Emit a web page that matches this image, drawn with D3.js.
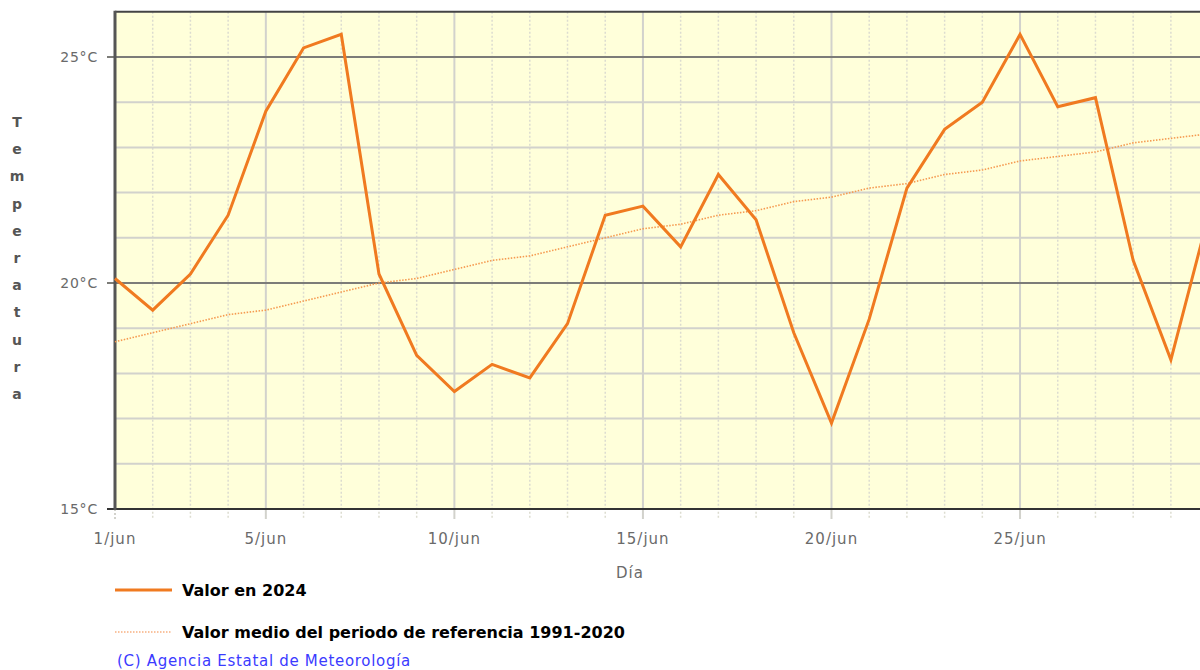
<!DOCTYPE html>
<html lang="es">
<head>
<meta charset="UTF-8">
<title>Temperatura junio 2024</title>
<script src="https://cdnjs.cloudflare.com/ajax/libs/d3/7.8.5/d3.min.js"></script>
<style>
    body { margin: 0; background: #fff; font-family: "DejaVu Sans", Verdana, sans-serif; }
    svg { display: block; }
</style>
</head>
<body>
<div id="chart"></div>
<script>
// dias de junio
const days = d3.range(1, 31);
// temperatura media diaria 2024 (ºC)
const valor2024 = [20.1, 19.4, 20.2, 21.5, 23.8, 25.2, 25.5, 20.2, 18.4, 17.6,
                   18.2, 17.9, 19.1, 21.5, 21.7, 20.8, 22.4, 21.4, 18.9, 16.9,
                   19.2, 22.1, 23.4, 24.0, 25.5, 23.9, 24.1, 20.5, 18.3, 21.5];
// valor medio periodo de referencia 1991-2020
const valorMedio = [18.7, 18.9, 19.1, 19.3, 19.4, 19.6, 19.8, 20.0, 20.1, 20.3,
                    20.5, 20.6, 20.8, 21.0, 21.2, 21.3, 21.5, 21.6, 21.8, 21.9,
                    22.1, 22.2, 22.4, 22.5, 22.7, 22.8, 22.9, 23.1, 23.2, 23.3];
const xTicks = [1, 5, 10, 15, 20, 25];
const yTicks = [15, 20, 25];
const yLabel = "Temperatura";
const legendLabels = ["Valor en 2024", "Valor medio del periodo de referencia 1991-2020"];

const W = 1200, H = 670;
const plotLeft = 115, plotBottom = 509;

const x = d3.scaleLinear().domain([1, 30]).range([plotLeft, plotLeft + 29 * 37.71]);
const y = d3.scaleLinear().domain([15, 26]).range([plotBottom, plotBottom - 11 * 45.2]);

const svg = d3.select("#chart").append("svg")
    .attr("width", W).attr("height", H);

// fondo
svg.append("rect")
    .attr("x", plotLeft).attr("y", y(26))
    .attr("width", W - plotLeft).attr("height", y(15) - y(26))
    .attr("fill", "#ffffda");

// rejilla vertical
svg.append("g").selectAll("line")
    .data(days.filter(d => d > 1))
    .join("line")
    .attr("x1", d => x(d)).attr("x2", d => x(d))
    .attr("y1", y(26)).attr("y2", plotBottom + 10)
    .attr("stroke", d => d % 5 === 0 ? "#d2d2cc" : "#dcdcd0")
    .attr("stroke-width", d => d % 5 === 0 ? 2 : 1.5)
    .attr("stroke-dasharray", d => d % 5 === 0 ? null : "2,2");

// marca bajo el eje en el dia 1
svg.append("line")
    .attr("x1", x(1)).attr("x2", x(1))
    .attr("y1", plotBottom).attr("y2", plotBottom + 10)
    .attr("stroke", "#d2d2cc").attr("stroke-width", 2)
    .attr("stroke-dasharray", "2,2");

// rejilla horizontal
svg.append("g").selectAll("line")
    .data(d3.range(16, 26))
    .join("line")
    .attr("x1", d => yTicks.includes(d) ? plotLeft - 8 : plotLeft).attr("x2", W)
    .attr("y1", d => y(d)).attr("y2", d => y(d))
    .attr("stroke", d => yTicks.includes(d) ? "#7c7c78" : "#d2d2cc")
    .attr("stroke-width", 2);

// bordes
svg.append("line")
    .attr("x1", plotLeft).attr("x2", W).attr("y1", y(26)).attr("y2", y(26))
    .attr("stroke", "#444").attr("stroke-width", 2);
svg.append("line")
    .attr("x1", plotLeft - 8).attr("x2", W).attr("y1", plotBottom).attr("y2", plotBottom)
    .attr("stroke", "#333").attr("stroke-width", 2);
svg.append("line")
    .attr("x1", plotLeft).attr("x2", plotLeft).attr("y1", y(26) - 1).attr("y2", plotBottom + 1)
    .attr("stroke", "#555").attr("stroke-width", 3);

// etiquetas eje y
svg.append("g").selectAll("text")
    .data(yTicks)
    .join("text")
    .attr("x", 98).attr("y", d => y(d) + 5)
    .attr("text-anchor", "end")
    .attr("font-size", 14).attr("letter-spacing", 0.8)
    .attr("fill", "#6a6a6a")
    .text(d => d + "°C");

// etiquetas eje x
svg.append("g").selectAll("text")
    .data(xTicks)
    .join("text")
    .attr("x", d => x(d)).attr("y", 544)
    .attr("text-anchor", "middle")
    .attr("font-size", 15).attr("letter-spacing", 1)
    .attr("fill", "#6a6a6a")
    .text(d => d + "/jun");

svg.append("text")
    .attr("x", 630).attr("y", 578)
    .attr("text-anchor", "middle")
    .attr("font-size", 15).attr("letter-spacing", 1)
    .attr("fill", "#6a6a6a")
    .text("Día");

// titulo eje y, letras apiladas
svg.append("g").selectAll("text")
    .data(yLabel.split(""))
    .join("text")
    .attr("x", 17).attr("y", (d, i) => 127 + i * 27.2)
    .attr("text-anchor", "middle")
    .attr("font-size", 14).attr("font-weight", "bold")
    .attr("fill", "#555")
    .text(d => d);

// lineas
const line = d3.line().x((d, i) => x(days[i])).y(d => y(d));

svg.append("path")
    .datum(valorMedio)
    .attr("fill", "none")
    .attr("stroke", "#f59a50")
    .attr("stroke-width", 1.6)
    .attr("stroke-dasharray", "1.5,1.5")
    .attr("d", line);

svg.append("path")
    .datum(valor2024)
    .attr("fill", "none")
    .attr("stroke", "#f07a20")
    .attr("stroke-width", 3)
    .attr("d", line);

// leyenda
const leg = svg.append("g");
leg.append("line")
    .attr("x1", 115).attr("x2", 172).attr("y1", 590).attr("y2", 590)
    .attr("stroke", "#f07a20").attr("stroke-width", 3);
leg.append("line")
    .attr("x1", 115).attr("x2", 172).attr("y1", 632).attr("y2", 632)
    .attr("stroke", "#f8b080").attr("stroke-width", 1.5)
    .attr("stroke-dasharray", "1.5,1.5");
leg.selectAll("text")
    .data(legendLabels)
    .join("text")
    .attr("x", 182).attr("y", (d, i) => 596 + i * 42)
    .attr("font-size", 16).attr("font-weight", "bold")
    .attr("fill", "#000")
    .text(d => d);

svg.append("text")
    .attr("x", 117).attr("y", 666)
    .attr("font-size", 15).attr("letter-spacing", 0.7)
    .attr("fill", "#3b3bff")
    .text("(C) Agencia Estatal de Meteorología");
</script>
</body>
</html>
